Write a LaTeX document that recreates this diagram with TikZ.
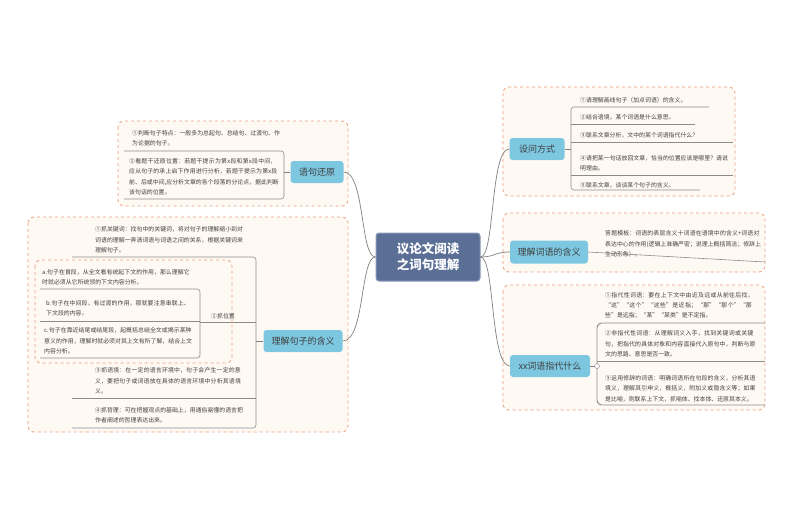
\documentclass[tikz,border=0pt]{standalone}
\usepackage{fontspec}
\setmainfont{Noto Sans CJK SC}
\XeTeXlinebreaklocale "zh"
\XeTeXlinebreakskip=0pt plus 1pt
\definecolor{brfill}{HTML}{7DC7E0}
\definecolor{cfill}{HTML}{5A6E96}
\definecolor{gdash}{HTML}{E8A07A}
\definecolor{gfill}{HTML}{FFF9F4}
\begin{document}
\begin{tikzpicture}[x=1pt,y=-1pt,
  grp/.style={draw=gdash,dashed,fill=gfill,rounded corners=6pt,line width=0.8pt},
  br/.style={fill=brfill,rounded corners=3pt,text=black!75,font=\fontsize{9}{11}\selectfont,inner sep=4pt},
  it/.style={font=\fontsize{5.9}{10.2}\selectfont,text=black!75,align=left,inner sep=1pt,anchor=south west},
  ul/.style={draw=black!45,line width=0.6pt,rounded corners=3pt},
  cn/.style={draw=black!50,line width=0.7pt}]
\useasboundingbox (0,0) rectangle (794,519);
% groups
\draw[grp] (503,87) rectangle (735,196);
\draw[grp] (503,213) rectangle (765,272);
\draw[grp] (503,285) rectangle (765,410);
\draw[grp] (118,121) rectangle (348,206);
\draw[grp] (28,217) rectangle (348,432);
\draw[grp] (35,260) rectangle (232,363);
% center
\node[fill=cfill,draw=cfill!70!white,line width=1pt,rounded corners=3pt,text=white,font=\fontsize{12.5}{16}\selectfont\bfseries,align=center,minimum width=104pt,minimum height=48pt] (c) at (428,257) {议论文阅读\\之词句理解};
% branches
\node[br,minimum width=55pt,minimum height=22pt] (s1) at (537,149) {设问方式};
\node[br,minimum width=78pt,minimum height=23pt] (s2) at (549,252) {理解词语的含义};
\node[br,minimum width=80pt,minimum height=22pt] (s3) at (550,366) {xx词语指代什么};
\node[br,minimum width=53pt,minimum height=22pt] (l1) at (317,172) {语句还原};
\node[br,minimum width=79pt,minimum height=22pt] (l2) at (303,341) {理解句子的含义};
\draw[cn] (c.east) .. controls (495,257) and (490,149) .. (s1.west);
\draw[cn] (c.east) .. controls (495,257) and (495,252) .. (s2.west);
\draw[cn] (c.east) .. controls (495,257) and (490,366) .. (s3.west);
\draw[cn] (c.west) .. controls (360,257) and (365,172) .. (l1.east);
\draw[cn] (c.west) .. controls (360,257) and (365,341) .. (l2.east);
% 设问方式 items
\coordinate (b1) at (571,149);
\draw[cn] (s1.east) -- (b1);
\node[it] (a1) at (579,104) {①请理解画线句子（加点词语）的含义。};
\node[it] (a2) at (579,121) {②结合语境，某个词语是什么意思。};
\node[it] (a3) at (579,139) {③联系文章分析，文中的某个词语指代什么？};
\node[it,text width=148pt] (a4) at (579,172) {④请把某一句话放回文章，恰当的位置应该是哪里？请说明理由。};
\node[it] (a5) at (579,189) {⑤联系文章，谈谈某个句子的含义。};
\draw[ul] (709,107) -- (571,107) -- (571,190) -- (700,190);
\draw[ul] (571,124) -- (695,124);
\draw[ul] (571,142) -- (733,142);
\draw[ul] (571,175) -- (733,175);
% 理解词语 items
\node[it,text width=156pt] (w1) at (604,258) {答题模板：词语的表层含义十词语在语境中的含义+词语对表达中心的作用(逻辑上准确严密；说理上概括简洁；修辞上生动形象）。};
\draw[ul] (s2.east) -- (765,262);
% xx items
\coordinate (b3) at (597,366);
\draw[cn] (s3.east) -- (b3);
\node[it,text width=152pt] (x1) at (604,320) {①指代性词语：要在上下文中由近及远或从前往后找，“这”“这个”“这些”是近指；“那”“那个”“那些”是远指；“某”“某类”是不定指。};
\node[it,text width=152pt] (x2) at (604,358) {②非指代性词语：从理解词义入手，找到关键词或关键句，把指代的具体对象和内容直接代入原句中，判断与原文的思路、意思是否一致。};
\node[it,text width=152pt] (x3) at (604,403) {③运用修辞的词语：明确词语所在句段的含义，分析其语境义，理解其引申义，概括义，附加义或隐含义等；如果是比喻，则联系上下文，抓喻体、找本体、还原其本义。};
\draw[ul] (765,323) -- (600,323) -- (597,326) -- (597,402) -- (600,405) -- (765,405);
\draw[ul] (597,361) -- (765,361);
\draw[black!50,fill=white] (b3) circle (2.5pt);
% 语句还原 items
\coordinate (b4) at (284,172);
\draw[cn] (l1.west) -- (b4);
\node[it,text width=148pt] (y1) at (131,147) {①判断句子特点：一般多为总起句、总结句、过渡句、作为论据的句子。};
\node[it,text width=150pt] (y2) at (128,196) {②看题干还原位置：若题干提示为第x段和第x段中间，应从句子的承上启下作用进行分析，若题干提示为第x段前、后或中间,应分析文章的各个段落的分论点，据此判断该句话的位置。};
\draw[ul] (124,151) -- (284,151) -- (284,199) -- (124,199);
% 理解句子 items
\coordinate (b5) at (256,341);
\draw[cn] (l2.west) -- (b5);
\node[it,text width=148pt] (z1) at (94,254) {①抓关键词：找句中的关键词，将对句子的理解缩小到对词语的理解一弄清词语与词语之间的关系，根据关键词来理解句子。};
\node[it] (z2) at (210,320) {②抓位置};
\node[it,text width=148pt] (p1) at (41,286) {a.句子在首段，从全文看有统起下文的作用，那么理解它时就必须从它所统领的下文内容分析。};
\node[it,text width=145pt] (p2) at (45,317) {b.句子在中间段，有过渡的作用，那就要注意串联上、下文段的内容。};
\node[it,text width=148pt] (p3) at (43,355) {c.句子在靠近结尾或结尾段，起概括总结全文或揭示某种意义的作用，理解时就必须对其上文有所了解，结合上文内容分析。};
\node[it,text width=148pt] (z3) at (94,395) {③抓语境：在一定的语言环境中，句子会产生一定的意义，要把句子或词语放在具体的语言环境中分析其语境义。};
\node[it,text width=148pt] (z4) at (94,424) {④抓哲理：可在把握观点的基础上，用通俗易懂的语言把作者阐述的哲理表达出来。};
\draw[ul] (72,257) -- (256,257) -- (256,428) -- (72,428);
\draw[ul] (256,398) -- (72,398);
\draw[ul] (256,322) -- (200,322);
\draw[ul] (40,289) -- (200,289) -- (200,358) -- (40,358);
\draw[ul] (200,321) -- (40,321);
\end{tikzpicture}
\end{document}
